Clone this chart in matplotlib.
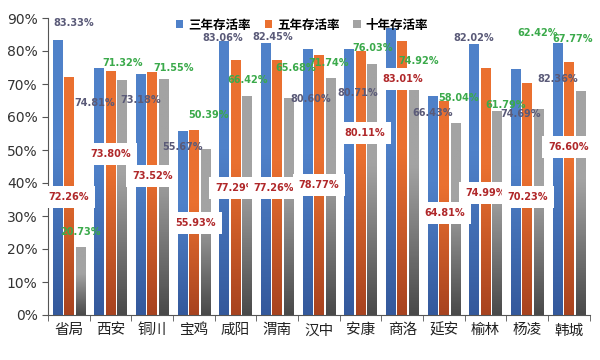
import numpy as np
import matplotlib
matplotlib.use("Agg")
import matplotlib.pyplot as plt
from matplotlib.colors import LinearSegmentedColormap

plt.rcParams['font.family'] = ['Noto Sans CJK SC', 'DejaVu Sans']

cities = ["省局", "西安", "铜川", "宝鸡", "咸阳", "渭南", "汉中", "安康", "商洛", "延安", "榆林", "杨凌", "韩城"]
series = ["三年存活率", "五年存活率", "十年存活率"]
y3 = [83.33, 74.81, 73.18, 55.67, 83.06, 82.45, 80.60, 80.71, 87.0, 66.43, 82.02, 74.69, 82.36]
y5 = [72.26, 73.80, 73.52, 55.93, 77.29, 77.26, 78.77, 80.11, 83.01, 64.81, 74.99, 70.23, 76.60]
y10 = [20.73, 71.32, 71.55, 50.39, 66.42, 65.68, 71.74, 76.03, 74.92, 58.04, 61.79, 62.42, 67.77]

# where the (messy) data labels sit, in data units; None = label not shown
pos3 = [(0.12, 88.5), (0.63, 64.2), (1.73, 65.2), (2.72, 50.9), (3.70, 83.9), (4.90, 84.2), (5.81, 65.5),
        (6.92, 67.3), None, (8.74, 61.2), (9.72, 83.9), (10.85, 60.9), (11.74, 71.5)]
pos5 = [(0.0, 35.8), (1.01, 48.8), (2.0, 42.1), (3.05, 27.9), (3.99, 38.5), (4.92, 38.5), (6.0, 39.4),
        (7.1, 55.2), (8.02, 71.5), (9.03, 30.9), (9.99, 37.0), (11.02, 35.8), (11.98, 50.9)]
pos10 = [(0.29, 25.2), (1.28, 76.4), (2.52, 74.8), (3.36, 60.6), (4.28, 71.2), (5.45, 74.8), (6.24, 76.4),
         (7.28, 80.9), (8.40, 77.0), (9.34, 65.8), (10.49, 63.6), (11.24, 85.5), (12.08, 83.6)]

colors = ["#4F81C9", "#EA7030", "#A3A3A3"]
dark = ["#34599C", "#A8431F", "#4A4A4A"]
label_colors = ["#5A5A78", "#B0282A", "#3BAA4B"]

fig = plt.figure(figsize=(6, 3.6), dpi=100)
ax = fig.add_axes([0.08, 0.125, 0.903, 0.825])

x = np.arange(len(cities))
w = 0.23
step = 0.276
grad = np.linspace(0, 1, 100).reshape(-1, 1)
for k, vals in enumerate([y3, y5, y10]):
    bars = ax.bar(x + (k - 1) * step, vals, w, color=colors[k], label=series[k], zorder=2)
    cmap = LinearSegmentedColormap.from_list("g%d" % k, [(0, dark[k]), (0.6, colors[k]), (1, colors[k])])
    for b in bars:
        x0, h = b.get_x(), b.get_height()
        im = ax.imshow(grad, extent=[x0, x0 + w, 0, h], origin="lower", aspect="auto",
                       cmap=cmap, zorder=2.1)
        im.set_clip_path(b)

for k, (vals, pos) in enumerate([(y3, pos3), (y5, pos5), (y10, pos10)]):
    for v, p in zip(vals, pos):
        if p is None:
            continue
        kw = {}
        if k == 1:
            kw["bbox"] = dict(boxstyle="square,pad=0.6", fc="white", ec="none")
        ax.text(p[0], p[1], "%.2f%%" % v, ha="center", va="center", fontsize=7,
                fontweight="bold", color=label_colors[k], family="DejaVu Sans", zorder=5, **kw)

ax.set_xlim(-0.5, len(cities) - 0.5)
ax.set_ylim(0, 90)
ax.set_yticks(np.arange(0, 91, 10))
ax.set_yticklabels(["%d%%" % t for t in range(0, 91, 10)], fontsize=10, color="#333333",
                   family="DejaVu Sans")
ax.set_xticks(x)
ax.set_xticklabels(cities, fontsize=10.5, color="#222222")
ax.set_xticks(np.arange(-0.5, len(cities), 1), minor=True)
ax.tick_params(axis="x", which="major", length=0, pad=6)
ax.tick_params(axis="x", which="minor", length=4, direction="out", color="#555555")
ax.tick_params(axis="y", length=4, color="#555555")
for s in ["top", "right"]:
    ax.spines[s].set_visible(False)
ax.spines["left"].set_color("#555555")
ax.spines["bottom"].set_color("#555555")

leg = ax.legend(loc="center", bbox_to_anchor=(0.469, 0.976), ncol=3, frameon=False,
                prop={"size": 9, "weight": "bold"}, handlelength=0.6, handleheight=0.6,
                handletextpad=0.4, columnspacing=1.1)
leg.set_zorder(6)

fig.savefig("out.png", dpi=100)
